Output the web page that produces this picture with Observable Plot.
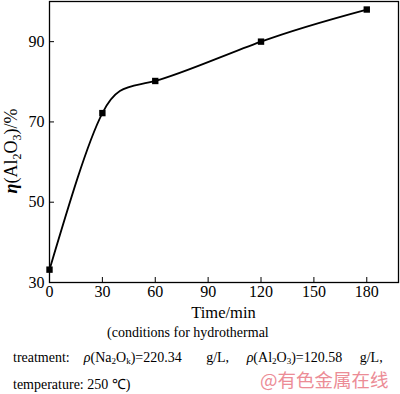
<!DOCTYPE html>
<html><head><meta charset="utf-8">
<script src="https://cdn.jsdelivr.net/npm/d3@7"></script>
<script src="https://cdn.jsdelivr.net/npm/@observablehq/plot@0.6"></script>
<style>
body{margin:0;background:#fff;font-family:"Liberation Serif","Times New Roman",serif;}
#wrap{position:relative;width:400px;height:394px;overflow:hidden;}
.cap{position:absolute;font-size:14px;color:#000;white-space:nowrap;line-height:1;}
sub{font-size:9px;vertical-align:-2px;line-height:0;}
</style></head><body>
<div id="wrap"><div id="chart"></div>
<div class="cap" style="left:107px;top:326px;">(conditions for hydrothermal</div>
<div class="cap" style="left:13px;top:351px;">treatment:&nbsp;&nbsp;&nbsp; <i>ρ</i>(Na<sub>2</sub>O<sub>k</sub>)=220.34&nbsp;&nbsp;&nbsp;&nbsp;&nbsp;&nbsp; g/L,&nbsp;&nbsp;&nbsp;&nbsp; <i>ρ</i>(Al<sub>2</sub>O<sub>3</sub>)=120.58&nbsp;&nbsp;&nbsp;&nbsp; g/L,</div>
<div class="cap" style="left:13px;top:378px;">temperature: 250 ℃)</div>
<div class="cap" style="left:260px;top:370px;font-size:18.5px;color:#ec8c96;font-family:'Noto Sans CJK SC',sans-serif;">@有色金属在线</div>
</div>
<script>
const time = [0, 30, 60, 120, 180];
const eta = [33.2, 72.2, 80.2, 90.0, 98.0];
const xTicks = [0, 30, 60, 90, 120, 150, 180];
const yTicks = [30, 50, 70, 90];
const xLabel = "Time/min";
const data = time.map((t, i) => ({t, v: eta[i]}));

const W = 400, H = 322, mT = 1, mB = 40, mL = 49, mR = 2;
const plot = Plot.plot({
  width: W, height: H,
  marginTop: mT, marginBottom: mB, marginLeft: mL, marginRight: mR,
  style: {fontFamily: "'Liberation Serif','Times New Roman',serif", fontSize: "16px", color: "#000", background: "#fff"},
  x: {domain: [0, 198], label: null},
  y: {domain: [30, 100], label: null},
  marks: [
    Plot.frame({stroke: "#000", strokeWidth: 1.3}),
    Plot.tickX(xTicks, {x: d => d, stroke: "#000", insetTop: H - mT - mB - 5}),
    Plot.tickY(yTicks, {y: d => d, stroke: "#000", insetRight: W - mL - mR - 5}),
    Plot.axisX(xTicks, {tickSize: 0, tickPadding: 3, fontSize: 16, label: null}),
    Plot.axisY(yTicks, {tickSize: 0, tickPadding: 5, fontSize: 16, label: null}),
    Plot.line(data, {x: "t", y: "v", curve: "natural", stroke: "#000", strokeWidth: 1.8}),
    Plot.dot(data, {x: "t", y: "v", symbol: "square", r: 3.6, fill: "#000"})
  ]
});
document.getElementById("chart").appendChild(plot);

const svg = d3.select(plot);
// x-axis title
svg.append("text")
  .attr("x", (mL + W - mR) / 2).attr("y", 318)
  .attr("text-anchor", "middle")
  .attr("font-size", 16.5)
  .attr("font-family", "'Liberation Serif','Times New Roman',serif")
  .attr("fill", "#000")
  .text(xLabel);
// rotated y-axis label with subscripts
const t = svg.append("text")
  .attr("transform", `translate(17,151) rotate(-90)`)
  .attr("text-anchor", "middle")
  .attr("font-size", 18)
  .attr("font-family", "'Liberation Serif','Times New Roman',serif")
  .attr("fill", "#000");
t.append("tspan").attr("font-weight", "bold").attr("font-style", "italic").text("η");
t.append("tspan").text("(Al");
t.append("tspan").attr("font-size", 12).attr("dy", 4).text("2");
t.append("tspan").attr("dy", -4).text("O");
t.append("tspan").attr("font-size", 12).attr("dy", 4).text("3");
t.append("tspan").attr("dy", -4).text(")/%");
</script>
</body></html>
